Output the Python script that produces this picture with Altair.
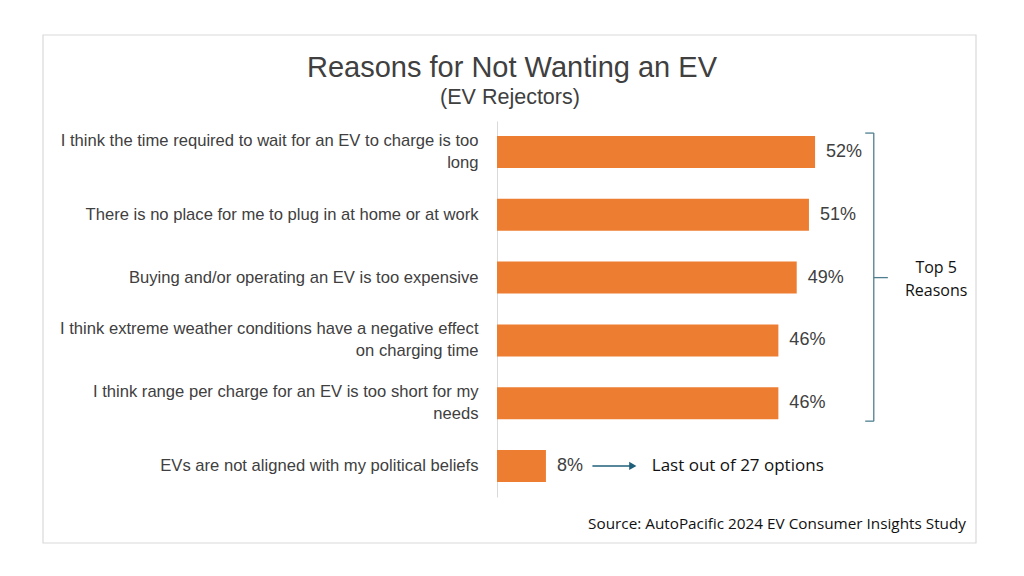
import altair as alt
import pandas as pd

# ---- data ----
reasons = [
    "I think the time required to wait for an EV to charge is too|long",
    "There is no place for me to plug in at home or at work",
    "Buying and/or operating an EV is too expensive",
    "I think extreme weather conditions have a negative effect|on charging time",
    "I think range per charge for an EV is too short for my|needs",
    "EVs are not aligned with my political beliefs",
]
pcts = [52, 51, 49, 46, 46, 8]
title_text = "Reasons for Not Wanting an EV"
subtitle_text = "(EV Rejectors)"
brace_text = "Top 5|Reasons"
last_text = "Last out of 27 options"
source_text = "Source: AutoPacific 2024 EV Consumer Insights Study"

GRAY = "#404040"
ORANGE = "#ED7D31"
TEAL = "#4f7f8f"
ARROW = "#1f5f7a"
FONT = "Liberation Sans"
FONT2 = "Open Sans"

df = pd.DataFrame({"reason": reasons, "pct": pcts, "label": [f"{p}%" for p in pcts]})

yscale = alt.Scale(domain=reasons, paddingInner=0.49, paddingOuter=0.24)
yenc = alt.Y(
    "reason:N",
    scale=yscale,
    axis=alt.Axis(
        title=None,
        labelExpr="split(datum.label, '|')",
        labelFontSize=16.6,
        labelFont=FONT,
        labelColor=GRAY,
        labelPadding=19,
        labelLimit=600,
        labelLineHeight=22,
        labelOffset={"condition": {"test": "indexof(datum.label, '|') >= 0", "value": -11}, "value": 0},
        ticks=False,
        domainColor="#d9d9d9",
        domainWidth=1,
    ),
)
ysimple = alt.Y("reason:N", scale=yscale)
xscale = alt.Scale(domain=[0, 60])

bars = alt.Chart(df).mark_bar(color=ORANGE).encode(
    x=alt.X("pct:Q", scale=xscale, axis=None), y=yenc
)
vals = alt.Chart(df).mark_text(
    align="left", dx=11, fontSize=18, font=FONT, color=GRAY, baseline="middle"
).encode(x=alt.X("pct:Q", scale=xscale), y=ysimple, text="label:N")

# brace annotation around top 5
brace_v = alt.Chart(pd.DataFrame({"reason": [reasons[0]], "reason2": [reasons[4]], "x": [61.6]})).mark_rule(
    color=TEAL, strokeWidth=1.3, yOffset=-19, y2Offset=18
).encode(x="x:Q", y=ysimple, y2="reason2:N")
brace_top = alt.Chart(pd.DataFrame({"reason": [reasons[0]], "x": [60.2], "x2": [61.6]})).mark_rule(
    color=TEAL, strokeWidth=1.3, yOffset=-19
).encode(x="x:Q", x2="x2:Q", y=ysimple)
brace_bot = alt.Chart(pd.DataFrame({"reason": [reasons[4]], "x": [60.2], "x2": [61.6]})).mark_rule(
    color=TEAL, strokeWidth=1.3, yOffset=18
).encode(x="x:Q", x2="x2:Q", y=ysimple)
brace_mid = alt.Chart(pd.DataFrame({"reason": [reasons[2]], "x": [61.6], "x2": [63.9]})).mark_rule(
    color=TEAL, strokeWidth=1.3
).encode(x="x:Q", x2="x2:Q", y=ysimple)
brace_lbl = alt.Chart(pd.DataFrame({"reason": [reasons[2]], "x": [71.8], "t": [brace_text]})).transform_calculate(
    tt="split(datum.t, '|')"
).mark_text(
    align="center", baseline="middle", fontSize=16, font=FONT2, color="#111111", lineHeight=23, dy=-10
).encode(x="x:Q", y=ysimple, text="tt:N")

# arrow for the last option
arrow_line = alt.Chart(pd.DataFrame({"reason": [reasons[5]], "x": [15.6], "x2": [22.0]})).mark_rule(
    color=ARROW, strokeWidth=1.5
).encode(x="x:Q", x2="x2:Q", y=ysimple)
arrow_head = alt.Chart(pd.DataFrame({"reason": [reasons[5]], "x": [22.2]})).mark_point(
    shape="triangle-right", filled=True, color=ARROW, size=70, opacity=1
).encode(x="x:Q", y=ysimple)
arrow_lbl = alt.Chart(pd.DataFrame({"reason": [reasons[5]], "x": [25.3], "t": [last_text]})).mark_text(
    align="left", baseline="middle", fontSize=17, font=FONT2, color="#111111"
).encode(x="x:Q", y=ysimple, text="t:N")

one = pd.DataFrame({"a": [0]})
frame = alt.Chart(one).mark_rect(fill=None, stroke="#d9d9d9", strokeWidth=1.2).encode(
    x=alt.value(-454), x2=alt.value(479), y=alt.value(-86), y2=alt.value(422)
)
title = alt.Chart(pd.DataFrame({"t": [title_text]})).mark_text(
    fontSize=29, font=FONT, color=GRAY, align="center", baseline="middle"
).encode(x=alt.value(15), y=alt.value(-53), text="t:N")
subtitle = alt.Chart(pd.DataFrame({"t": [subtitle_text]})).mark_text(
    fontSize=21.5, font=FONT, color=GRAY, align="center", baseline="middle"
).encode(x=alt.value(13), y=alt.value(-23), text="t:N")
source = alt.Chart(pd.DataFrame({"t": [source_text]})).mark_text(
    fontSize=15.3, font=FONT2, color="#111111", align="right", baseline="middle"
).encode(x=alt.value(469), y=alt.value(403), text="t:N")

chart = alt.layer(
    frame, bars, vals, brace_v, brace_top, brace_bot, brace_mid, brace_lbl,
    arrow_line, arrow_head, arrow_lbl, title, subtitle, source
).properties(
    width=367, height=376,
    autosize=alt.AutoSizeParams(type="none"),
    padding={"left": 497, "top": 121, "right": 160, "bottom": 79},
    background="white",
).configure_view(stroke=None)

chart.save("out.html", embed_options={"renderer": "svg", "actions": False})
